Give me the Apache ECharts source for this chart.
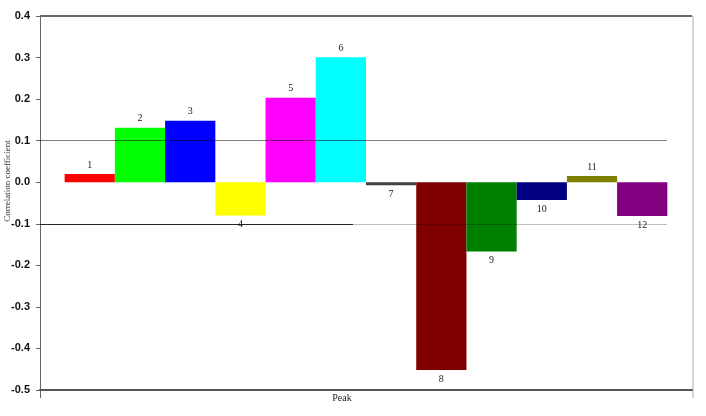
<!DOCTYPE html>
<html>
<head>
<meta charset="utf-8">
<script src="https://cdn.jsdelivr.net/npm/echarts@6/dist/echarts.min.js"></script>
<style>html,body{margin:0;padding:0;background:#fff}#c{width:706px;height:416px}</style>
</head>
<body>
<div id="c"></div>
<script>
var categories = ['Peak'];
var seriesNames = ['1','2','3','4','5','6','7','8','9','10','11','12'];
var seriesValues = [0.02, 0.131, 0.148, -0.08, 0.203, 0.301, -0.007, -0.452, -0.167, -0.043, 0.015, -0.081];
var seriesColors = ['#FF0000','#00FF00','#0000FF','#FFFF00','#FF00FF','#00FFFF','#404040','#800000','#008000','#000080','#808000','#800080'];
var yTicks = {min: -0.5, max: 0.4, interval: 0.1};
var yAxisTitle = 'Correlation coefficient';

var chart = echarts.init(document.getElementById('c'));
var series = seriesNames.map(function (n, i) {
  var v = seriesValues[i];
  var s = {
    name: n,
    type: 'bar',
    data: [v],
    barGap: '0%',
    barCategoryGap: '7.56%',
    itemStyle: {color: seriesColors[i]},
    label: {
      show: true,
      position: v >= 0 ? 'top' : 'bottom',
      distance: 4,
      formatter: '{a}',
      fontFamily: 'Liberation Serif, Times New Roman, serif',
      fontSize: 10,
      color: '#222'
    },
    animation: false
  };
  if (i === seriesNames.length - 1) {
    s.markLine = {
      silent: true,
      symbol: 'none',
      animation: false,
      label: {show: false},
      data: [
        [{x: 40, yAxis: 0.4, lineStyle: {color: '#666', width: 2, type: 'solid'}}, {x: 692, yAxis: 0.4}],
        [{x: 40, yAxis: 0.1, lineStyle: {color: 'rgba(0,0,0,0.5)', width: 1, type: 'solid'}}, {x: 667, yAxis: 0.1}],
        [{x: 40, yAxis: -0.1, lineStyle: {color: 'rgba(0,0,0,0.85)', width: 1, type: 'solid'}}, {x: 353, yAxis: -0.1}],
        [{x: 353, yAxis: -0.1, lineStyle: {color: 'rgba(0,0,0,0.25)', width: 1, type: 'solid'}}, {x: 667, yAxis: -0.1}]
      ]
    };
  }
  return s;
});

chart.setOption({
  backgroundColor: '#fff',
  animation: false,
  grid: {left: 40, right: 14, top: 16, bottom: 26, containLabel: false, outerBoundsMode: 'none'},
  xAxis: {
    type: 'category',
    data: categories,
    axisLine: {show: true, onZero: false, lineStyle: {color: '#555', width: 2}},
    axisTick: {show: false},
    axisLabel: {
      margin: 3,
      padding: [0, 48, 0, 0],
      fontFamily: 'Liberation Serif, Times New Roman, serif',
      fontSize: 10,
      color: '#222'
    }
  },
  yAxis: {
    type: 'value',
    min: yTicks.min,
    max: yTicks.max,
    interval: yTicks.interval,
    axisLine: {show: true, lineStyle: {color: '#666', width: 1}},
    axisTick: {show: true, inside: false, length: 4, lineStyle: {color: '#666'}},
    splitLine: {show: false},
    axisLabel: {
      margin: 10,
      fontFamily: 'Liberation Sans, Arial, sans-serif',
      fontWeight: 'bold',
      fontSize: 11,
      color: '#111',
      formatter: function (v) { return v.toFixed(1); }
    }
  },
  graphic: [
    {type: 'line', shape: {x1: 40.5, y1: 390, x2: 40.5, y2: 398}, style: {stroke: '#666', lineWidth: 1}, silent: true},
    {type: 'line', shape: {x1: 693, y1: 16, x2: 693, y2: 398}, style: {stroke: '#d4d4d4', lineWidth: 2}, silent: true},
    {type: 'text', x: 8, y: 181, rotation: Math.PI / 2, silent: true,
      style: {text: yAxisTitle, align: 'center', verticalAlign: 'middle',
        fontFamily: 'Liberation Serif, Times New Roman, serif', fontSize: 9, fill: '#3a2a2a'}}
  ],
  series: series
});
</script>
</body>
</html>
